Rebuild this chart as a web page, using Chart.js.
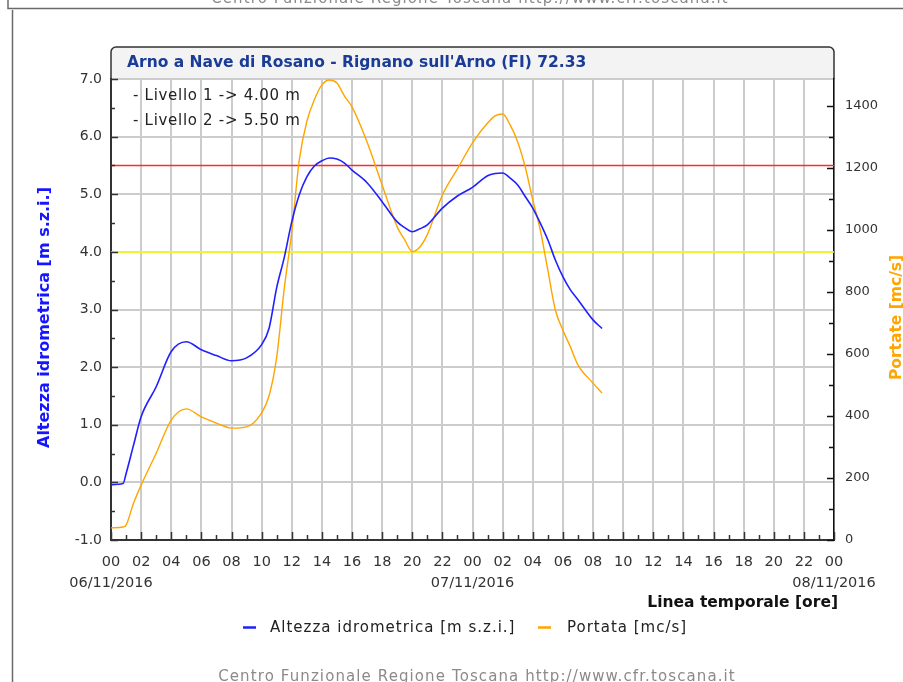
<!DOCTYPE html>
<html>
<head>
<meta charset="utf-8">
<script src="https://cdn.jsdelivr.net/npm/chart.js@4.4.1/dist/chart.umd.min.js"></script>
<style>
  body { margin: 0; background: #fff; }
  canvas { display: block; }
</style>
</head>
<body>
<canvas id="chart" width="903" height="682"></canvas>
<script>
// Data ==========================
const hours = [0, 0.8, 1, 1.5, 2, 3, 4, 5, 6, 7, 8, 9, 10, 10.5, 11, 11.5, 12, 12.5, 13, 13.5,
    14, 14.5, 15, 15.5, 16, 17, 18, 19, 19.5, 20, 20.5, 21, 22, 23, 24, 25, 25.5, 26, 26.5,
    27, 27.5, 28, 28.5, 29, 29.5, 30, 30.5, 31, 32, 32.6];

const altezza = [-0.04, -0.02, 0.15, 0.65, 1.14, 1.66, 2.27, 2.44, 2.30, 2.20, 2.11, 2.16, 2.39, 2.68,
    3.38, 3.90, 4.52, 4.99, 5.30, 5.49, 5.58, 5.63, 5.61, 5.54, 5.42, 5.20, 4.87, 4.52, 4.42,
    4.35, 4.40, 4.47, 4.76, 4.97, 5.12, 5.32, 5.36, 5.37, 5.28, 5.16, 4.96, 4.76, 4.50, 4.21,
    3.86, 3.57, 3.34, 3.17, 2.82, 2.67];

const portata = [39, 42, 48, 119, 177, 280, 387, 423, 397, 377, 361, 365, 410, 466,
    590, 810, 994, 1226, 1350, 1420, 1468, 1484, 1474, 1432, 1397, 1284, 1145, 1010, 968,
    930, 945, 985, 1113, 1197, 1281, 1345, 1368, 1374, 1339, 1284, 1203, 1097, 1000, 871,
    742, 677, 623, 565, 506, 474];

const livelli = [4.00, 5.50];
const livelliColors = ["#ffff00", "#ff2a2a"];
const dates = ["06/11/2016", "07/11/2016", "08/11/2016"];

const titleText = "Arno a Nave di Rosano - Rignano sull'Arno (FI) 72.33";
const footerText = "Centro Funzionale Regione Toscana http://www.cfr.toscana.it";

const BLUE = "#2020ff";
const ORANGE = "#ffa500";
const FONT = "DejaVu Sans";

// Decorations ==========================
const decor = {
    id: "decor",
    beforeDraw(chart) {
        const c = chart.ctx, a = chart.chartArea;
        c.save();
        // frame of the page
        c.strokeStyle = "#6a6a6a";
        c.lineWidth = 1.5;
        c.beginPath();
        c.moveTo(8, 0); c.lineTo(8, 8.5); c.lineTo(903, 8.5);
        c.moveTo(12.5, 10); c.lineTo(12.5, 682);
        c.stroke();
        c.fillStyle = "#8a8a8a";
        c.font = "15px " + FONT;
        c.letterSpacing = "1.1px";
        c.textAlign = "center";
        c.textBaseline = "alphabetic";
        c.fillText(footerText, 470, 3);
        c.letterSpacing = "0px";

        // title box
        const L = a.left, R = a.right, T = 47, B = a.top, r = 5;
        c.beginPath();
        c.moveTo(L, B);
        c.lineTo(L, T + r);
        c.arcTo(L, T, L + r, T, r);
        c.lineTo(R - r, T);
        c.arcTo(R, T, R, T + r, r);
        c.lineTo(R, B);
        c.closePath();
        c.fillStyle = "#f3f3f3";
        c.fill();
        c.strokeStyle = "#333";
        c.lineWidth = 1.5;
        c.stroke();
        c.fillStyle = "#1a3c96";
        c.font = "bold 15.5px " + FONT;
        c.textAlign = "left";
        c.textBaseline = "middle";
        c.fillText(titleText, 127, 63);
        c.restore();
    },
    afterDraw(chart) {
        const c = chart.ctx, a = chart.chartArea;
        const xs = chart.scales.x, ys = chart.scales.y, y1 = chart.scales.y1;
        c.save();
        c.strokeStyle = "#333";
        c.lineWidth = 1.5;
        c.beginPath();
        for (let h = 0; h <= 48; h++) {
            const px = Math.round(xs.getPixelForValue(h)) + 0.5;
            const len = h % 2 === 0 ? 8 : 5;
            c.moveTo(px, a.bottom); c.lineTo(px, a.bottom - len);
        }
        for (let v = -1; v <= 7; v += 0.5) {
            const py = Math.round(ys.getPixelForValue(v)) + 0.5;
            const len = Number.isInteger(v) ? 7 : 4;
            c.moveTo(a.left, py); c.lineTo(a.left + len, py);
        }
        c.stroke();
        c.strokeStyle = "#111";
        c.beginPath();
        for (let q = 0; q <= 1400; q += 100) {
            const py = Math.round(y1.getPixelForValue(q)) + 0.5;
            const len = q % 200 === 0 ? 7 : 5;
            c.moveTo(a.right, py); c.lineTo(a.right - len, py);
        }
        c.stroke();

        // livelli text
        c.fillStyle = "#222";
        c.font = "15px " + FONT;
        c.letterSpacing = "0.7px";
        c.textAlign = "left";
        c.textBaseline = "middle";
        livelli.forEach((v, i) => {
            c.fillText("- Livello " + (i + 1) + " -> " + v.toFixed(2) + " m", 133, 96 + i * 25);
        });
        c.letterSpacing = "0px";

        // axis titles
        c.textAlign = "center";
        c.fillStyle = "#1515ff";
        c.font = "bold 16px " + FONT;
        c.save();
        c.translate(45, (a.top + a.bottom) / 2 + 8);
        c.rotate(-Math.PI / 2);
        c.fillText("Altezza idrometrica [m s.z.i.]", 0, 0);
        c.restore();
        c.fillStyle = ORANGE;
        c.font = "bold 15.5px " + FONT;
        c.save();
        c.translate(897, (a.top + a.bottom) / 2 + 8);
        c.rotate(-Math.PI / 2);
        c.fillText("Portate [mc/s]", 0, 0);
        c.restore();

        c.fillStyle = "#111";
        c.font = "bold 15.5px " + FONT;
        c.textAlign = "right";
        c.fillText("Linea temporale [ore]", 838, 603);

        // legend
        c.font = "15px " + FONT;
        c.letterSpacing = "1px";
        c.textAlign = "left";
        c.fillStyle = "#222";
        c.lineWidth = 2.5;
        c.strokeStyle = BLUE;
        c.beginPath(); c.moveTo(243, 627.5); c.lineTo(256, 627.5); c.stroke();
        c.fillText("Altezza idrometrica [m s.z.i.]", 270, 628);
        c.strokeStyle = ORANGE;
        c.beginPath(); c.moveTo(538, 627.5); c.lineTo(551, 627.5); c.stroke();
        c.fillText("Portata [mc/s]", 567, 628);

        c.fillStyle = "#8a8a8a";
        c.letterSpacing = "1.1px";
        c.textAlign = "center";
        c.textBaseline = "alphabetic";
        c.fillText(footerText, 477, 681);
        c.restore();
    }
};

// Chart ==========================
const ctx = document.getElementById("chart").getContext("2d");

const chart = new Chart(ctx, {
    type: "line",
    data: {
        datasets: [{
            label: "Altezza idrometrica [m s.z.i.]",
            data: hours.map((h, i) => ({ x: h, y: altezza[i] })),
            borderColor: BLUE,
            borderWidth: 1.6,
            pointRadius: 0,
            cubicInterpolationMode: "monotone",
            yAxisID: "y"
        }, {
            label: "Portata [mc/s]",
            data: hours.map((h, i) => ({ x: h, y: portata[i] })),
            borderColor: ORANGE,
            borderWidth: 1.4,
            pointRadius: 0,
            cubicInterpolationMode: "monotone",
            yAxisID: "y1"
        }].concat(livelli.map((v, i) => ({
            label: "Livello " + (i + 1),
            data: [{ x: 0, y: v }, { x: 48, y: v }],
            borderColor: livelliColors[i],
            borderWidth: 1.5,
            pointRadius: 0,
            yAxisID: "y"
        })))
    },
    options: {
        responsive: false,
        animation: false,
        layout: { padding: { top: 79, left: 0, right: 0, bottom: 0 } },
        plugins: { legend: { display: false }, tooltip: { enabled: false } },
        scales: {
            x: {
                type: "linear",
                min: 0,
                max: 48,
                afterFit: s => { s.height = 142; },
                border: { color: "#333", width: 2 },
                grid: { color: "#cccccc", lineWidth: 2, drawTicks: false },
                ticks: {
                    stepSize: 2,
                    autoSkip: false,
                    maxRotation: 0,
                    minRotation: 0,
                    padding: 12,
                    color: "#333",
                    font: { family: FONT, size: 14.5, lineHeight: 1.45 },
                    callback: v => {
                        const lab = String(v % 24).padStart(2, "0");
                        return v % 24 === 0 ? [lab, dates[v / 24]] : lab;
                    }
                }
            },
            y: {
                position: "left",
                min: -1,
                max: 7,
                afterFit: s => { s.width = 111; },
                border: { color: "#333", width: 2 },
                grid: { color: "#cccccc", lineWidth: 2, drawTicks: false },
                ticks: {
                    stepSize: 1,
                    padding: 9,
                    color: "#333",
                    font: { family: FONT, size: 14 },
                    callback: v => v.toFixed(1)
                }
            },
            y1: {
                position: "right",
                min: 0,
                max: 1487,
                afterFit: s => { s.width = 69; },
                border: { color: "#111", width: 1.5 },
                grid: { display: false, drawTicks: false },
                ticks: {
                    stepSize: 200,
                    includeBounds: false,
                    padding: 11,
                    color: "#333",
                    font: { family: FONT, size: 13 },
                    callback: v => String(v)
                }
            }
        }
    },
    plugins: [decor]
});
</script>
</body>
</html>
